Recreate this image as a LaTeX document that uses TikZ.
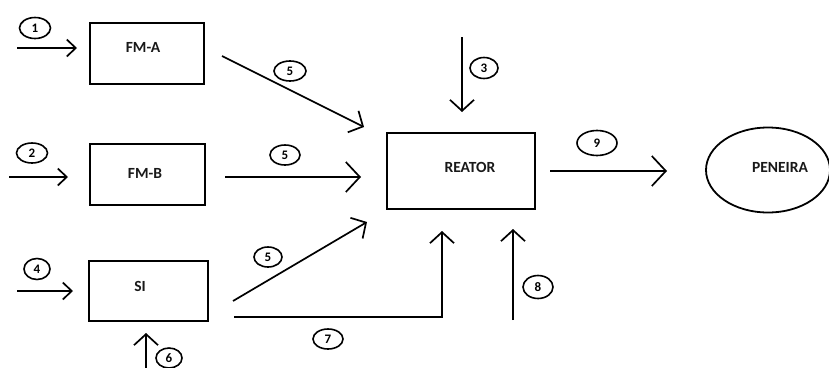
\documentclass[tikz,border=0pt]{standalone}
\usepackage{fontspec}
\setmainfont{Carlito}
\usetikzlibrary{arrows.meta,shapes.geometric}
\begin{document}
\begin{tikzpicture}[x=1pt,y=-1pt,
  box/.style={draw,line width=1.8pt,inner sep=0pt},
  lbl/.style={inner sep=0pt,font=\fontsize{15.5}{18}\selectfont\bfseries,text=black!90},
  num/.style={draw,ellipse,line width=1.6pt,minimum width=28pt,minimum height=21pt,inner sep=0pt,font=\fontsize{13}{15}\selectfont\bfseries},
  flow/.style={line width=1.7pt,-{Straight Barb[length=11pt,width=24pt]}},
  small/.style={-{Straight Barb[length=9pt,width=17pt]}},
  wide/.style={-{Straight Barb[length=14pt,width=30pt]}}]
\fill[white] (0,0) rectangle (829,367);
\useasboundingbox (0,0) rectangle (829,367);
% boxes
\node[box,minimum width=114pt,minimum height=61pt] (fma) at (147,53.5) {};
\node[lbl] (tfma) at (143,47) {FM-A};
\node[box,minimum width=115pt,minimum height=61pt] (fmb) at (147.5,174.5) {};
\node[lbl] (tfmb) at (145,173) {FM-B};
\node[box,minimum width=119pt,minimum height=60pt] (si) at (148.5,291) {};
\node[lbl] (tsi) at (140,286) {SI};
\node[box,minimum width=148pt,minimum height=76pt] (reator) at (461,171) {};
\node[lbl] (treator) at (470,167) {REATOR};
\node[draw,ellipse,line width=1.8pt,minimum width=124pt,minimum height=85pt,inner sep=0pt] (pen) at (768,170) {};
\node[lbl] (tpen) at (780,167) {PENEIRA};
% arrow end points
\coordinate (s1) at (17,48);   \coordinate (e1) at (77,48);
\coordinate (s2) at (9,177);   \coordinate (e2) at (68,177);
\coordinate (s4) at (17,291);  \coordinate (e4) at (73,291);
\coordinate (s6) at (146,370); \coordinate (e6) at (146,333);
\coordinate (s5a) at (222,56); \coordinate (e5a) at (364,127);
\coordinate (s5b) at (225,177);\coordinate (e5b) at (361,177);
\coordinate (s5c) at (233,301);\coordinate (e5c) at (367,222);
\coordinate (s7) at (234,317); \coordinate (e7) at (442,231);
\coordinate (s8) at (513,320); \coordinate (e8) at (513,229);
\coordinate (s3) at (462,37);  \coordinate (e3) at (462,112);
\coordinate (s9) at (550,171); \coordinate (e9) at (667,171);
% arrows
\draw[flow,small] (s1) -- (e1);
\draw[flow,small] (s2) -- (e2);
\draw[flow,small] (s4) -- (e4);
\draw[flow] (s6) -- (e6);
\draw[flow] (s5a) -- (e5a);
\draw[flow,wide] (s5b) -- (e5b);
\draw[flow] (s5c) -- (e5c);
\draw[flow] (s7) -| (e7);
\draw[flow] (s8) -- (e8);
\draw[flow] (s3) -- (e3);
\draw[flow,wide] (s9) -- (e9);
% numbers
\node[num,minimum width=31pt] (n1) at (35,28) {1};
\node[num,minimum width=31pt,minimum height=20pt] (n2) at (32,153) {2};
\node[num] (n3) at (484,68) {3};
\node[num,minimum width=26pt] (n4) at (37,269) {4};
\node[num,minimum width=32pt,minimum height=20pt] (n5a) at (290,71) {5};
\node[num,minimum width=30pt,minimum height=20pt] (n5b) at (285,155) {5};
\node[num,minimum width=28pt,minimum height=20pt] (n5c) at (268,257) {5};
\node[num,minimum width=26pt,minimum height=20pt] (n6) at (169,358) {6};
\node[num,minimum width=30pt,minimum height=20pt] (n7) at (328,339) {7};
\node[num,minimum width=30pt,minimum height=23pt] (n8) at (538,287) {8};
\node[num,minimum width=40pt,minimum height=25pt] (n9) at (597,143) {9};
\end{tikzpicture}
\end{document}
